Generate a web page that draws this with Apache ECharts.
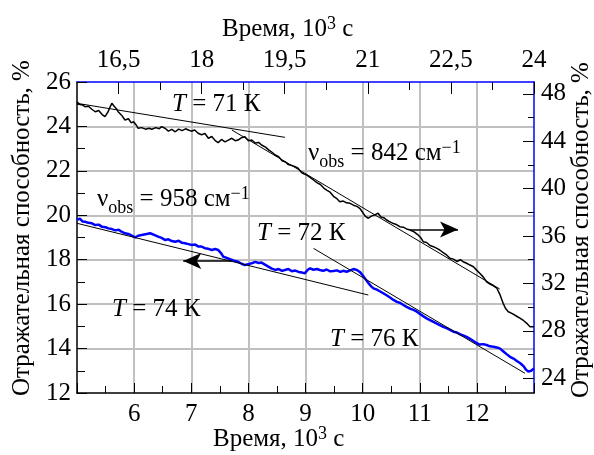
<!DOCTYPE html>
<html><head><meta charset="utf-8">
<script src="https://cdn.jsdelivr.net/npm/echarts@6/dist/echarts.min.js"></script>
<style>html,body{margin:0;padding:0;background:#fff}#c{width:594px;height:455px}</style>
</head><body><div id="c"></div>
<script>
// ---------- data ----------
const bottomLabels = [6, 7, 8, 9, 10, 11, 12];
const topLabels = [16.5, 18, 19.5, 21, 22.5, 24];
const topMinor = [17.25, 18.75, 20.25, 21.75, 23.25];
const rightLabels = [24, 28, 32, 36, 40, 44, 48];
const rightMinor = [26, 30, 34, 38, 42, 46];

const timeBlack = [5.00,5.05,5.10,5.14,5.20,5.26,5.32,5.38,5.44,5.49,5.54,5.58,5.61,5.65,5.69,5.72,5.78,5.84,5.90,5.95,5.99,6.04,6.07,6.13,6.20,6.26,6.31,6.38,6.44,6.48,6.54,6.60,6.66,6.72,6.78,6.84,6.90,6.95,7.00,7.06,7.12,7.18,7.24,7.30,7.36,7.42,7.47,7.53,7.59,7.65,7.71,7.77,7.82,7.88,7.94,8.00,8.06,8.12,8.18,8.23,8.30,8.36,8.42,8.47,8.53,8.59,8.65,8.70,8.76,8.82,8.87,8.93,8.97,9.02,9.08,9.14,9.20,9.26,9.32,9.37,9.43,9.49,9.55,9.60,9.66,9.72,9.78,9.84,9.90,9.95,10.00,10.05,10.10,10.16,10.22,10.27,10.32,10.37,10.42,10.48,10.54,10.60,10.65,10.71,10.77,10.83,10.90,10.97,11.02,11.06,11.12,11.18,11.24,11.30,11.35,11.41,11.47,11.53,11.59,11.65,11.71,11.76,11.82,11.88,11.94,12.00,12.05,12.11,12.17,12.23,12.29,12.35,12.40,12.46,12.50,12.55,12.62,12.69,12.76,12.82,12.88,12.93,12.96,13.00];
const reflBlack = [47.34,47.10,47.05,46.91,46.95,46.70,46.49,46.60,46.25,46.07,46.45,46.90,47.20,46.95,46.75,46.49,46.20,45.79,45.90,45.55,45.65,45.35,45.09,45.15,45.02,45.10,45.01,45.15,45.05,45.23,45.10,44.85,45.00,44.80,45.02,44.90,45.05,44.95,44.85,44.95,44.67,44.55,44.65,44.25,44.40,44.05,43.88,44.15,43.95,44.10,44.25,44.05,44.10,44.30,44.38,44.05,44.10,43.85,43.90,43.68,43.50,43.25,43.05,42.84,42.70,42.35,42.25,42.03,41.95,41.85,41.72,41.35,41.25,41.15,40.95,40.73,40.50,40.35,40.05,39.88,39.70,39.35,39.15,38.90,38.95,38.80,38.76,38.60,38.50,38.34,38.00,37.65,37.50,37.70,37.80,37.92,37.60,37.55,37.35,37.20,37.05,36.95,36.79,36.75,36.60,36.51,36.35,36.09,35.85,35.52,35.45,35.20,35.10,34.95,34.82,34.60,34.40,34.12,34.05,33.85,34.00,33.83,33.70,33.55,33.41,33.10,32.85,32.55,32.14,31.95,31.80,31.59,31.10,30.32,29.90,29.61,29.45,29.25,29.05,28.85,28.60,28.35,28.21,28.35];

const timeBlue = [5.00,5.05,5.10,5.14,5.20,5.26,5.32,5.38,5.44,5.50,5.55,5.61,5.67,5.73,5.78,5.84,5.90,5.96,6.02,6.07,6.13,6.20,6.28,6.35,6.42,6.48,6.54,6.60,6.66,6.72,6.78,6.84,6.89,6.95,7.01,7.07,7.12,7.18,7.24,7.30,7.36,7.42,7.47,7.52,7.56,7.62,7.68,7.75,7.82,7.88,7.94,8.00,8.06,8.12,8.18,8.23,8.29,8.35,8.41,8.47,8.53,8.59,8.64,8.70,8.76,8.82,8.88,8.94,8.99,9.04,9.08,9.14,9.20,9.25,9.31,9.37,9.43,9.49,9.55,9.61,9.66,9.72,9.78,9.84,9.90,9.95,10.00,10.04,10.10,10.15,10.19,10.25,10.30,10.36,10.42,10.48,10.54,10.60,10.66,10.72,10.77,10.83,10.89,10.95,11.01,11.06,11.12,11.18,11.24,11.30,11.35,11.41,11.47,11.53,11.59,11.65,11.71,11.77,11.82,11.88,11.94,12.00,12.05,12.11,12.17,12.23,12.29,12.35,12.40,12.46,12.52,12.58,12.64,12.70,12.76,12.82,12.86,12.90,12.95,13.00];
const reflBlue = [19.79,19.85,19.72,19.71,19.66,19.64,19.56,19.58,19.48,19.46,19.41,19.38,19.32,19.35,19.26,19.19,19.16,19.08,19.01,19.08,19.11,19.15,19.19,19.12,19.04,18.98,18.89,18.92,18.84,18.81,18.85,18.76,18.74,18.70,18.66,18.68,18.60,18.59,18.52,18.49,18.44,18.48,18.44,18.30,18.14,18.08,18.02,17.96,17.91,17.82,17.76,17.80,17.84,17.90,17.85,17.87,17.78,17.69,17.60,17.54,17.58,17.50,17.54,17.58,17.48,17.51,17.45,17.42,17.39,17.55,17.61,17.55,17.58,17.54,17.50,17.56,17.48,17.49,17.52,17.45,17.50,17.46,17.52,17.58,17.54,17.45,17.30,17.16,16.95,16.80,16.71,16.65,16.58,16.49,16.40,16.30,16.19,16.10,16.05,15.95,15.88,15.80,15.74,15.66,15.55,15.46,15.36,15.28,15.20,15.12,15.06,14.98,14.92,14.84,14.76,14.72,14.64,14.58,14.53,14.44,14.34,14.24,14.18,14.20,14.16,14.10,14.08,14.05,14.01,13.88,13.75,13.63,13.55,13.44,13.34,13.20,13.05,12.96,13.00,13.11];

// fitted straight lines [t, value]
const fitBlack1 = [[5.00, 47.20], [8.64, 44.33]];
const fitBlack2 = [[7.71, 44.95], [12.40, 31.53]];
const fitBlue1 = [[5.00, 19.64], [10.10, 16.41]];
const fitBlue2 = [[9.14, 18.51], [12.84, 12.89]];
// arrows: [from, to]
const arrowBlack = [[10.83, 36.55], [11.67, 36.55]];
const arrowBlue = [[7.71, 17.94], [6.86, 17.94]];

// ---------- chart ----------
const FONT = '"Liberation Serif", "Times New Roman", serif';
const FS = 25;
const zip = (a, b) => a.map((t, i) => [t, b[i]]);
const txt = { color: '#000', fontFamily: FONT, fontSize: FS };

const S = (o) => Object.assign({ fontFamily: FONT, fill: '#000', color: '#000', lineHeight: 40, verticalAlign: 'top' }, o);
const rich = {
  m: S({ fontSize: FS, padding: [6, 0, 0, 0] }),
  i: S({ fontSize: FS, fontStyle: 'italic', padding: [6, 0, 0, 0] }),
  sub: S({ fontSize: 18, padding: [18, 0, 0, 0] }),
  sup: S({ fontSize: 18, padding: [4, 0, 0, 0] })
};
function label(x, baseline, text) {
  return { type: 'text', x: x, y: baseline - 27, z: 100,
    style: { text: text, rich: rich, fill: '#000', font: FS + 'px ' + FONT,
      align: 'left', verticalAlign: 'top', textAlign: 'left', textVerticalAlign: 'top' } };
}
function vlabel(x, y, text) {
  return { type: 'text', x: x, y: y, rotation: Math.PI / 2, z: 100,
    style: { text: text, fill: '#000', font: FS + 'px ' + FONT,
      align: 'center', verticalAlign: 'middle', textAlign: 'center', textVerticalAlign: 'middle' } };
}

const arrowMark = (pts) => ({
  silent: true, symbol: ['none', 'arrow'], symbolSize: [12, 18], animation: false,
  label: { show: false }, lineStyle: { color: '#000', width: 1.5, type: 'solid' },
  data: [[{ coord: pts[0] }, { coord: pts[1] }]]
});
const fitSeries = (data, yi, mark) => ({
  type: 'line', xAxisIndex: 0, yAxisIndex: yi, data: data, symbol: 'none', z: 5,
  lineStyle: { color: '#000', width: 1 }, markLine: mark, animation: false
});

const chart = echarts.init(document.getElementById('c'), null, { renderer: 'canvas' });
chart.setOption({
  animation: false,
  backgroundColor: '#fff',
  grid: { left: 77, right: 60, top: 82, bottom: 62, containLabel: false },
  xAxis: [
    { type: 'value', position: 'bottom', min: 5, max: 13, interval: 1,
      axisLine: { lineStyle: { color: '#000', width: 1.5 } },
      axisTick: { inside: true, length: 10, lineStyle: { color: '#000' } },
      minorTick: { show: true, splitNumber: 2, length: 7, lineStyle: { color: '#000', width: 1 } },
      axisLabel: Object.assign({ margin: 9, showMinLabel: false, showMaxLabel: false,
        formatter: v => bottomLabels.includes(v) ? String(v) : '' }, txt),
      splitLine: { show: true, showMinLine: false, showMaxLine: false, lineStyle: { color: '#c0c0c0', width: 2 } } },
    { type: 'value', position: 'top', min: 15.75, max: 24,
      axisLine: { lineStyle: { color: '#0000ff', width: 1.5 } },
      axisTick: { inside: true, length: 12, customValues: topLabels, lineStyle: { color: '#000' } },
      axisLabel: Object.assign({ margin: 9, customValues: topLabels,
        formatter: v => String(v).replace('.', ',') }, txt),
      splitLine: { show: false } },
    { type: 'value', position: 'top', min: 15.75, max: 24,
      axisLine: { show: false },
      axisTick: { inside: true, length: 8, customValues: topMinor, lineStyle: { color: '#000' } },
      axisLabel: { show: false }, splitLine: { show: false } }
  ],
  yAxis: [
    { type: 'value', position: 'left', min: 12, max: 26, interval: 2,
      axisLine: { lineStyle: { color: '#000', width: 1.5 } },
      axisTick: { inside: true, length: 10, lineStyle: { color: '#000' } },
      minorTick: { show: true, splitNumber: 2, length: 8, lineStyle: { color: '#000', width: 1 } },
      axisLabel: Object.assign({ margin: 6 }, txt),
      splitLine: { show: true, showMinLine: false, showMaxLine: false, lineStyle: { color: '#c0c0c0', width: 2 } } },
    { type: 'value', position: 'right', min: 22.75, max: 49,
      axisLine: { lineStyle: { color: '#0000ff', width: 1.5 } },
      axisTick: { inside: true, length: 11, customValues: rightLabels, lineStyle: { color: '#000' } },
      axisLabel: Object.assign({ margin: 7, customValues: rightLabels }, txt),
      splitLine: { show: false } },
    { type: 'value', position: 'right', min: 22.75, max: 49,
      axisLine: { show: false },
      axisTick: { inside: true, length: 6, customValues: rightMinor, lineStyle: { color: '#000' } },
      axisLabel: { show: false }, splitLine: { show: false } }
  ],
  series: [
    { type: 'line', xAxisIndex: 0, yAxisIndex: 0, data: zip(timeBlue, reflBlue), symbol: 'none', z: 3,
      lineStyle: { color: '#0000ff', width: 2.5 } },
    { type: 'line', xAxisIndex: 0, yAxisIndex: 1, data: zip(timeBlack, reflBlack), symbol: 'none', z: 4,
      lineStyle: { color: '#000', width: 1.5 } },
    fitSeries(fitBlack1, 1),
    fitSeries(fitBlack2, 1, arrowMark(arrowBlack)),
    fitSeries(fitBlue1, 0, arrowMark(arrowBlue)),
    fitSeries(fitBlue2, 0)
  ],
  graphic: [
    label(222, 38, '{m|Время, 10}{sup|3}{m| с}'),
    label(213, 448, '{m|Время, 10}{sup|3}{m| с}'),
    vlabel(22, 228, 'Отражательная способность, %'),
    vlabel(581, 230, 'Отражательная способность, %'),
    label(172, 113, '{i|T}{m| = 71 К}'),
    label(308, 162, '{m|ν}{sub|obs}{m| = 842 см}{sup|−1}'),
    label(97, 208, '{m|ν}{sub|obs}{m| = 958 см}{sup|−1}'),
    label(257, 242, '{i|T}{m| = 72 К}'),
    label(112, 318, '{i|T}{m| = 74 К}'),
    label(330, 348, '{i|T}{m| = 76 К}')
  ]
});
</script>
</body></html>
